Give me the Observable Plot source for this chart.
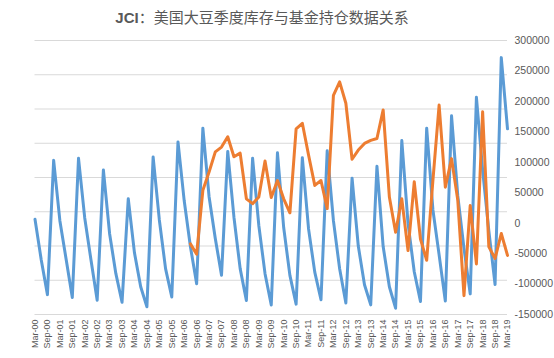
<!DOCTYPE html>
<html><head><meta charset="utf-8">
<script src="https://cdn.jsdelivr.net/npm/d3@7"></script>
<script src="https://cdn.jsdelivr.net/npm/@observablehq/plot@0.6"></script>
<style>
html,body{margin:0;padding:0;background:#fff;overflow:hidden}
body{width:554px;height:358px}
#title{height:30px;line-height:34px;text-align:center;font-family:"Noto Sans CJK SC",sans-serif;font-size:15px;color:#595959;padding-right:30px;white-space:nowrap}
#title b{font-family:"Liberation Sans",sans-serif}
#chart svg{display:block;max-width:none}
</style></head><body>
<div id="title"><b>JCI</b>：美国大豆季度库存与基金持仓数据关系</div>
<div id="chart"></div>
<script>
// Categories: quarterly, Mar-00 .. Mar-19
const years = ["00","01","02","03","04","05","06","07","08","09","10","11","12","13","14","15","16","17","18","19"];
const months = ["Mar","Jun","Sep","Dec"];
const quarters = [];
for (const y of years) for (const m of months) { if (y === "19" && m !== "Mar") break; quarters.push(`${m}-${y}`); }

// US soybean quarterly stocks (million bushels, hidden left axis 0-4000)
const stocks = [
  1390, 800, 290, 2250,
  1370, 810, 248, 2280,
  1410, 800, 208, 2110,
  1180, 600, 178, 1690,
  900, 405, 112, 2300,
  1380, 670, 256, 2520,
  1660, 990, 449, 2720,
  1720, 1110, 574, 2380,
  1420, 670, 205, 2280,
  1300, 596, 138, 2360,
  1270, 571, 151, 2290,
  1250, 619, 215, 2390,
  1370, 667, 169, 1990,
  999, 435, 141, 2165,
  992, 405, 92, 2540,
  1330, 625, 191, 2720,
  1530, 870, 197, 2900,
  1735, 966, 301, 3170,
  2107, 1222, 438, 3750,
  2710
];

// Fund net positions (contracts, right axis), from Jun-06
const fundStart = "Jun-06";
const fund = [
  -34000, -51000, 54000,
  84000, 117000, 125000, 142000,
  109000, 115000, 40000, 32000,
  43000, 102000, 42000, 70000,
  40000, 17000, 155000, 164000,
  112000, 62000, 70000, 24000,
  210000, 232000, 197000, 105000,
  120000, 131000, 136000, 139000,
  186000, 43000, -15000, 40000,
  -45000, 68000, -26000, -61000,
  70000, 194000, 59000, 106000,
  38000, -119000, 29000, -67000,
  183000, -39000, -58000, -17000,
  -53000
];

const rightTicks = [-150000,-100000,-50000,0,50000,100000,150000,200000,250000,300000];
const leftTicks = [0,500,1000,1500,2000,2500,3000,3500,4000];
const leftMax = 4000, rMin = -150000, rMax = 300000;
const toRight = v => rMin + v / leftMax * (rMax - rMin);

const stockData = stocks.map((v, i) => ({i, v}));
const s0 = quarters.indexOf(fundStart);
const fundData = fund.map((v, k) => ({i: s0 + k, v}));
const xTicks = quarters.map((d, i) => i).filter(i => i % 2 === 0);

const chart = Plot.plot({
  width: 554, height: 328,
  marginTop: 10, marginBottom: 44, marginLeft: 34.5, marginRight: 47,
  style: {fontFamily: "Liberation Sans, sans-serif", fontSize: "10px", color: "#595959", background: "#fff"},
  x: {type: "linear", domain: [0, quarters.length - 1]},
  y: {domain: [rMin, rMax]},
  marks: [
    Plot.ruleY(leftTicks.map(toRight), {stroke: "#d9d9d9", strokeWidth: 1}),
    Plot.axisY(rightTicks, {anchor: "right", tickSize: 0, tickPadding: 7, tickFormat: d => String(d), fill: "#595959", fontSize: 10.5, label: null}),
    Plot.axisX(xTicks, {anchor: "bottom", tickSize: 0, tickPadding: 5, tickRotate: -90, tickFormat: i => quarters[i], fill: "#595959", fontSize: 9, label: null}),
    Plot.line(stockData, {x: "i", y: d => toRight(d.v), stroke: "#5b9bd5", strokeWidth: 3, strokeLinejoin: "round"}),
    Plot.line(fundData, {x: "i", y: "v", stroke: "#ed7d31", strokeWidth: 3, strokeLinejoin: "round"})
  ]
});
document.getElementById("chart").appendChild(chart);
</script>
</body></html>
